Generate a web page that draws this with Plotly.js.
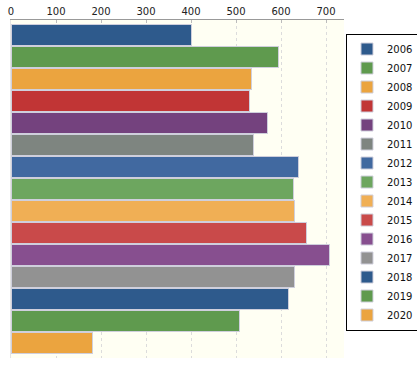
<!DOCTYPE html>
<html>
<head>
<meta charset="utf-8">
<script src="https://cdn.plot.ly/plotly-3.0.1.min.js"></script>
<style>html,body{margin:0;padding:0;background:#fff;}#chart{width:417px;height:368px;}</style>
</head>
<body>
<div id="chart"></div>
<script>
const years = ["2006","2007","2008","2009","2010","2011","2012","2013","2014","2015","2016","2017","2018","2019","2020"];
const values = [402, 595, 534, 529, 569, 538, 638, 627, 629, 656, 707, 631, 616, 507, 180];
const colors = ["#2e5a8c","#5f9a4e","#eba43f","#c13535","#74427e","#7e8580","#4169a0","#6da65f","#f0af55","#c94a4a","#874f8f","#929292","#2e5a8c","#5f9a4e","#eba43f"];
const tickVals = [0,100,200,300,400,500,600,700];

const traces = years.map((y, i) => ({
  type: "bar",
  orientation: "h",
  name: y,
  y: [y],
  x: [values[i]],
  marker: {color: colors[i], line: {color: "#cfcfdc", width: 1}},
  hoverinfo: "x+name"
}));

const layout = {
  width: 417, height: 368,
  margin: {l: 11, r: 73, t: 20, b: 10, autoexpand: false},
  paper_bgcolor: "#ffffff",
  plot_bgcolor: "#fffff3",
  barmode: "stack",
  bargap: 0.03,
  font: {family: "DejaVu Sans, Verdana, sans-serif", size: 10, color: "#222"},
  showlegend: true,
  legend: {
    x: 1.006, xanchor: "left", y: 0.96, yanchor: "top",
    bgcolor: "#ffffff", bordercolor: "#000000", borderwidth: 1,
    font: {size: 10, color: "#111"},
    itemwidth: 30,
    traceorder: "normal"
  },
  xaxis: {
    side: "top",
    range: [0, 740],
    tickvals: tickVals,
    ticktext: tickVals.map(String),
    showgrid: true, gridcolor: "#dcdcdc", griddash: "dot", gridwidth: 1,
    showline: true, linecolor: "#999999", linewidth: 1,
    ticks: "inside", ticklen: 3, tickcolor: "#bbbbbb",
    zeroline: false,
    tickfont: {size: 10, color: "#222"}
  },
  yaxis: {
    type: "category",
    categoryorder: "array", categoryarray: years,
    range: [14.68, -0.68],
    showticklabels: false,
    showgrid: false, zeroline: false,
    showline: true, linecolor: "#e4e4e4", linewidth: 1,
    ticks: ""
  }
};

Plotly.newPlot("chart", traces, layout, {displayModeBar: false, staticPlot: true});
</script>
</body>
</html>
